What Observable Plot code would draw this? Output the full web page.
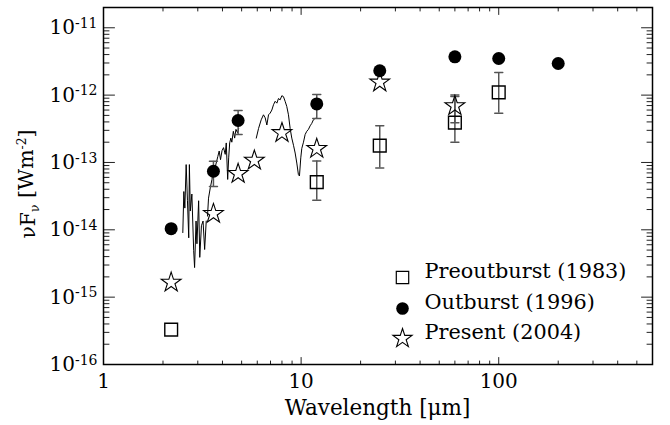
<!DOCTYPE html>
<html><head><meta charset="utf-8">
<script src="https://cdn.jsdelivr.net/npm/d3@7"></script>
<script src="https://cdn.jsdelivr.net/npm/@observablehq/plot@0.6"></script>
<style>
body{margin:0;background:#fff;}
#chart{width:670px;height:425px;}
</style></head><body><div id="chart"></div>
<script>
// Preoutburst (1983)
const preLam = [2.2, 12, 25, 60, 100];
const preFlux = [3.3e-16, 5.1e-14, 1.78e-13, 3.9e-13, 1.1e-12];
const preErrLam = [12, 25, 60, 100];
const preErrLo = [2.75e-14, 8.3e-14, 2.0e-13, 5.4e-13];
const preErrHi = [1.05e-13, 3.5e-13, 9.5e-13, 2.16e-12];
// Outburst (1996)
const outLam = [2.2, 3.6, 4.8, 12, 25, 60, 100, 200];
const outFlux = [1.04e-14, 7.4e-14, 4.2e-13, 7.4e-13, 2.3e-12, 3.7e-12, 3.5e-12, 2.95e-12];
const outErrLam = [3.6, 4.8, 12];
const outErrLo = [4.4e-14, 2.6e-13, 4.5e-13];
const outErrHi = [1.04e-13, 5.9e-13, 1.02e-12];
// Present (2004)
const presLam = [2.2, 3.6, 4.8, 5.8, 8.0, 12, 25, 60];
const presFlux = [1.65e-15, 1.73e-14, 6.8e-14, 1.07e-13, 2.75e-13, 1.6e-13, 1.55e-12, 6.9e-13];
const presErrLam = [60];
const presErrLo = [3.9e-13];
const presErrHi = [1.0e-12];
// Spectrum
const specLam = [2.52,2.55,2.58,2.62,2.66,2.70,2.72,2.75,2.80,2.86,2.89,2.94,2.97,3.03,3.07,3.13,3.19,3.25,3.31,
  3.36,3.40,3.47,3.54,3.58,3.65,3.74,3.79,3.85,3.91,3.98,4.05,4.13,4.18,4.25,4.30,4.35,4.41,4.46,4.54,4.61,4.68,4.77,4.83,
  5.93,6.09,6.28,6.45,6.58,6.71,6.84,6.97,7.11,7.25,7.39,7.54,7.68,7.83,7.99,8.14,8.30,8.46,8.63,8.80,8.97,9.15,9.33,9.51,9.69,9.81,9.96,10.08,10.28,10.48,10.68,10.89,11.11,11.32,11.54,11.77];
const specFlux = [9.1e-15,3.7e-14,2.1e-14,9.3e-14,2.7e-14,7.6e-15,9.3e-14,1.9e-14,3.4e-14,4.9e-15,2.75e-15,1.35e-14,6.2e-15,2.7e-14,3.9e-15,1.15e-14,1.35e-14,5.1e-15,1.35e-14,
  1.6e-14,2.95e-14,4.2e-14,5.6e-14,7.4e-14,7.9e-14,1.05e-13,1.23e-13,1.48e-13,1.1e-13,1.5e-13,1.66e-13,1.32e-13,1.95e-13,5.6e-14,1.17e-13,1.95e-13,2.3e-13,2.0e-13,2.9e-13,2.3e-13,3.1e-13,2.75e-13,3.2e-13,
  2.3e-13,3.2e-13,4.3e-13,5.1e-13,4.6e-13,3.6e-13,5.1e-13,5.4e-13,6.0e-13,7.2e-13,8.1e-13,7.6e-13,8.9e-13,8.5e-13,9.8e-13,9.5e-13,8.1e-13,6.8e-13,5.1e-13,3.2e-13,2.3e-13,1.8e-13,1.38e-13,9.8e-14,6.6e-14,6.3e-14,1.17e-13,1.62e-13,2.0e-13,2.6e-13,2.9e-13,3.1e-13,3.5e-13,3.8e-13,4.3e-13,4.5e-13];
const specSeg = specLam.map(l => l < 3.34 ? "a" : l < 5 ? "b" : "c");
// Ticks and labels
const xMajor = [1, 10, 100];
const xTickLabels = ["1", "10", "100"];
const xMinor = [2,3,4,5,6,7,8,9,20,30,40,50,60,70,80,90,200,300,400,500];
const yMajor = [1e-16, 1e-15, 1e-14, 1e-13, 1e-12, 1e-11];
const yTickLabels = ["10^-16", "10^-15", "10^-14", "10^-13", "10^-12", "10^-11"];
const yMinor = yMajor.slice(0, 5).flatMap(p => [2,3,4,5,6,7,8,9].map(m => m * p));
const legendLabels = ["Preoutburst (1983)", "Outburst (1996)", "Present (2004)"];

const pts = (L, F) => L.map((l, i) => ({lam: l, f: F[i]}));
const errs = (L, lo, hi) => L.map((l, i) => ({lam: l, lo: lo[i], hi: hi[i]}));
const pre = pts(preLam, preFlux), out = pts(outLam, outFlux), pres = pts(presLam, presFlux);
const allErr = [...errs(preErrLam, preErrLo, preErrHi), ...errs(outErrLam, outErrLo, outErrHi), ...errs(presErrLam, presErrLo, presErrHi)];
const spec = specLam.map((l, i) => ({lam: l, f: specFlux[i], seg: specSeg[i]}));

const lineShape = {draw(context, l) { context.moveTo(0, 0); context.lineTo(0, -l); }};
const tickOpts = {shape: lineShape, anchor: "start", stroke: "#222", strokeWidth: 1};
const FONT = "'DejaVu Serif', serif";

const plot = Plot.plot({
  width: 670, height: 425,
  marginLeft: 103, marginRight: 18, marginTop: 7, marginBottom: 61,
  style: {fontFamily: FONT, fontSize: "20px", background: "white", color: "black"},
  x: {type: "log", domain: [1, 600]},
  y: {type: "log", domain: [1e-16, 2e-11]},
  marks: [
    Plot.axisX({ticks: xMajor, tickSize: 0, tickPadding: 9, tickFormat: (d) => xTickLabels[xMajor.indexOf(d)], label: null}),
    Plot.axisY({ticks: yMajor, tickSize: 0, tickPadding: 6, tickFormat: (d) => yTickLabels[yMajor.indexOf(d)], label: null}),
    // inward ticks
    Plot.vector(yMajor, {y: d => d, frameAnchor: "left", rotate: 90, length: 11, ...tickOpts}),
    Plot.vector(yMinor, {y: d => d, frameAnchor: "left", rotate: 90, length: 5.5, ...tickOpts}),
    Plot.vector(yMajor, {y: d => d, frameAnchor: "right", rotate: -90, length: 11, ...tickOpts}),
    Plot.vector(yMinor, {y: d => d, frameAnchor: "right", rotate: -90, length: 5.5, ...tickOpts}),
    Plot.vector(xMajor, {x: d => d, frameAnchor: "bottom", rotate: 0, length: 7, ...tickOpts}),
    Plot.vector(xMinor, {x: d => d, frameAnchor: "bottom", rotate: 0, length: 3.5, ...tickOpts}),
    Plot.vector(xMajor, {x: d => d, frameAnchor: "top", rotate: 180, length: 7, ...tickOpts}),
    Plot.vector(xMinor, {x: d => d, frameAnchor: "top", rotate: 180, length: 3.5, ...tickOpts}),
    // spectrum
    Plot.line(spec, {x: "lam", y: "f", z: "seg", stroke: "black", strokeWidth: 1}),
    // error bars
    Plot.ruleX(allErr, {x: "lam", y1: "lo", y2: "hi", stroke: "#555", strokeWidth: 1.5}),
    Plot.vector(allErr, {x: "lam", y: "lo", rotate: 90, length: 8, shape: lineShape, anchor: "middle", stroke: "#555", strokeWidth: 1.5}),
    Plot.vector(allErr, {x: "lam", y: "hi", rotate: 90, length: 8, shape: lineShape, anchor: "middle", stroke: "#555", strokeWidth: 1.5}),
    // points
    Plot.dot(pre, {x: "lam", y: "f", symbol: "square", r: 7.2, stroke: "black", fill: "none", strokeWidth: 1.4}),
    Plot.dot(out, {x: "lam", y: "f", symbol: "circle", r: 6.5, fill: "black", stroke: "none"}),
    Plot.dot(pres, {x: "lam", y: "f", symbol: "star", r: 6.2, stroke: "black", fill: "none", strokeWidth: 1.1}),
    // legend
    Plot.dot([legendLabels[0]], {frameAnchor: "bottom-right", dx: -250, dy: -87, symbol: "square", r: 7, stroke: "black", fill: "none", strokeWidth: 1.2}),
    Plot.dot([legendLabels[1]], {frameAnchor: "bottom-right", dx: -250, dy: -56, symbol: "circle", r: 6.3, fill: "black"}),
    Plot.dot([legendLabels[2]], {frameAnchor: "bottom-right", dx: -250, dy: -26, symbol: "star", r: 6, stroke: "black", fill: "none", strokeWidth: 1.1}),
    Plot.text([legendLabels[0]], {frameAnchor: "bottom-right", dx: -228, dy: -87, text: d => d, textAnchor: "start", fontSize: 20.8, fontFamily: FONT}),
    Plot.text([legendLabels[1]], {frameAnchor: "bottom-right", dx: -228, dy: -56, text: d => d, textAnchor: "start", fontSize: 20.8, fontFamily: FONT}),
    Plot.text([legendLabels[2]], {frameAnchor: "bottom-right", dx: -228, dy: -26, text: d => d, textAnchor: "start", fontSize: 20.8, fontFamily: FONT}),
    Plot.frame({stroke: "black", strokeWidth: 1.5})
  ]
});
document.getElementById("chart").appendChild(plot);

const svg = d3.select(plot.tagName.toLowerCase() === "svg" ? plot : plot.querySelector("svg"));
svg.selectAll('g[aria-label="y-axis tick label"] text').each(function() {
  const t = d3.select(this);
  const parts = t.text().split("^");
  t.text(null);
  t.append("tspan").text(parts[0]);
  t.append("tspan").attr("dy", "-0.45em").attr("font-size", "0.7em").text(parts[1]);
});
// axis titles
svg.append("text").attr("x", 377.5).attr("y", 415).attr("text-anchor", "middle")
  .attr("font-family", FONT).attr("font-size", 21.5).attr("fill", "black").text("Wavelength [μm]");
const yt = svg.append("text").attr("transform", "translate(35,184) rotate(-90)")
  .attr("text-anchor", "middle").attr("font-family", FONT).attr("font-size", 20.5).attr("fill", "black");
yt.append("tspan").text("νF");
yt.append("tspan").attr("dy", "0.3em").attr("font-size", "0.6em").text("ν");
yt.append("tspan").attr("dy", "-0.3em").text(" [Wm");
yt.append("tspan").attr("dy", "-0.5em").attr("font-size", "0.6em").text("-2");
yt.append("tspan").attr("dy", "0.3em").text("]");
</script></body></html>
